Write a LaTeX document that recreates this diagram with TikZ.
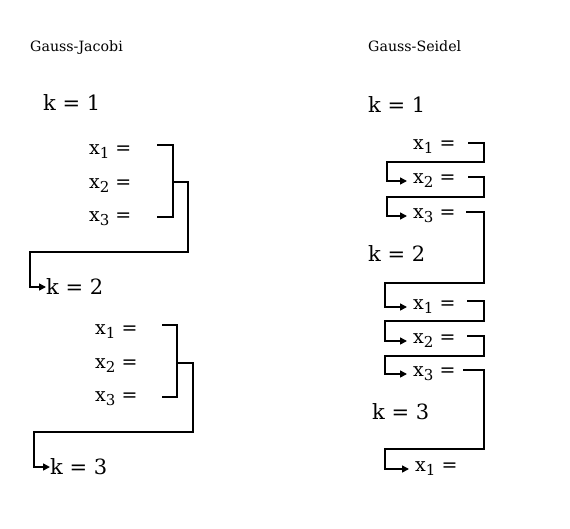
\documentclass[tikz,border=0pt]{standalone}
\usepackage{fontspec}
\setmainfont{DejaVu Serif}
\usetikzlibrary{arrows.meta}
\newcommand{\xsub}[1]{x\raisebox{-4pt}{\fontsize{15}{15}\selectfont #1}}
\begin{document}
\begin{tikzpicture}[x=1pt,y=-1pt,
  title/.style={inner sep=0pt,anchor=west,font=\fontsize{14.2}{17}\selectfont},
  klbl/.style={inner sep=0pt,anchor=west,font=\fontsize{21}{24}\selectfont},
  xlbl/.style={inner sep=0pt,anchor=west,font=\fontsize{19}{22}\selectfont},
  conn/.style={line width=1.5pt,line join=miter},
  arr/.style={conn,-{Triangle[length=7pt,width=7pt]}}]
\useasboundingbox (0,0) rectangle (570,528);
% ---------- Gauss-Jacobi ----------
\node[title] (jt) at (30,48) {Gauss-Jacobi};
\node[klbl] (jk1) at (43,103) {k = 1};
\node[xlbl] (ja1) at (89,152) {\xsub{1} =};
\node[xlbl] (ja2) at (89,186) {\xsub{2} =};
\node[xlbl] (ja3) at (89,219) {\xsub{3} =};
\node[klbl] (jk2) at (46,287) {k = 2};
\node[xlbl] (jb1) at (95,332) {\xsub{1} =};
\node[xlbl] (jb2) at (95,366) {\xsub{2} =};
\node[xlbl] (jb3) at (95,399) {\xsub{3} =};
\node[klbl] (jk3) at (50,467) {k = 3};
\draw[conn] (157,145) -- (173,145) -- (173,217) -- (157,217);
\draw[arr] (173,182) -- (188,182) -- (188,252) -- (30,252) |- (jk2.west);
\draw[conn] (162,325) -- (177,325) -- (177,397) -- (162,397);
\draw[arr] (177,363) -- (193,363) -- (193,432) -- (34,432) |- (jk3.west);
% ---------- Gauss-Seidel ----------
\node[title] (st) at (368,46) {Gauss-Seidel};
\node[klbl] (sk1) at (368,105) {k = 1};
\node[xlbl] (sa1) at (413,147) {\xsub{1} =};
\node[xlbl] (sa2) at (413,181) {\xsub{2} =};
\node[xlbl] (sa3) at (413,216) {\xsub{3} =};
\node[klbl] (sk2) at (368,254) {k = 2};
\node[xlbl] (sb1) at (413,307) {\xsub{1} =};
\node[xlbl] (sb2) at (413,341) {\xsub{2} =};
\node[xlbl] (sb3) at (413,374) {\xsub{3} =};
\node[klbl] (sk3) at (372,412) {k = 3};
\node[xlbl] (sc1) at (415,469) {\xsub{1} =};
\draw[arr] (468,143) -- (484,143) -- (484,162) -- (387,162) |- ([xshift=-6pt]sa2.west);
\draw[arr] (468,177) -- (484,177) -- (484,197) -- (387,197) |- ([xshift=-6pt]sa3.west);
\draw[arr] (466,212) -- (484,212) -- (484,283) -- (385,283) |- ([xshift=-6pt]sb1.west);
\draw[arr] (467,301) -- (484,301) -- (484,321) -- (385,321) |- ([xshift=-6pt]sb2.west);
\draw[arr] (467,336) -- (484,336) -- (484,356) -- (385,356) |- ([xshift=-6pt]sb3.west);
\draw[arr] (463,370) -- (484,370) -- (484,449) -- (385,449) |- ([xshift=-6pt]sc1.west);
\end{tikzpicture}
\end{document}
